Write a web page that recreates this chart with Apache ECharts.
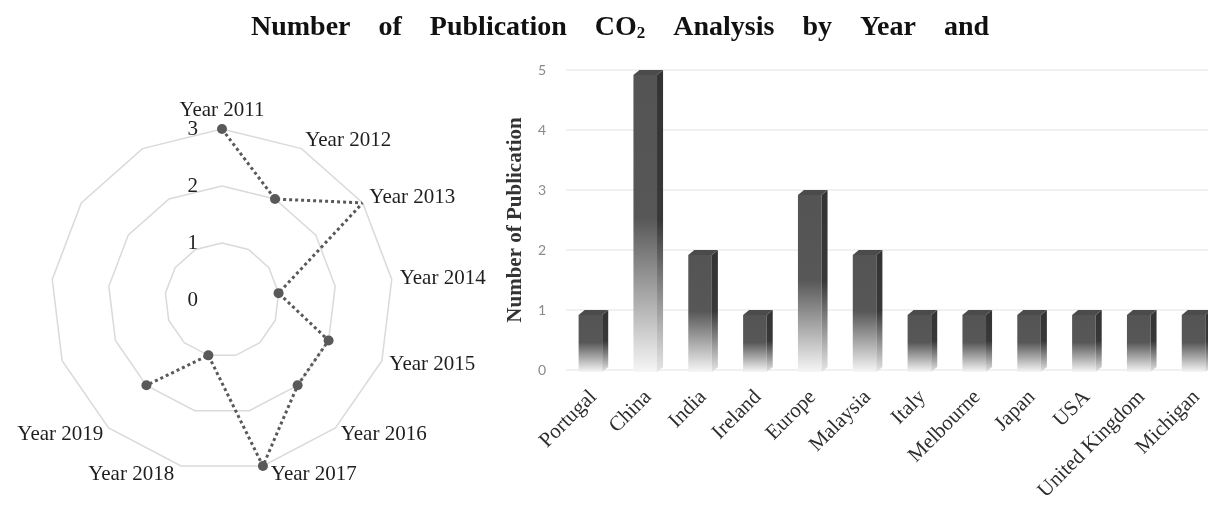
<!DOCTYPE html>
<html>
<head>
<meta charset="utf-8">
<script src="https://cdn.jsdelivr.net/npm/echarts@6/dist/echarts.min.js"></script>
<style>
  html, body { margin: 0; padding: 0; background: #fff; }
  #chart { width: 1208px; height: 510px; }
</style>
</head>
<body>
<div id="chart"></div>
<script>
// Publications per year (radar, 13 spokes; the last four are unused)
const yearLabels = ['Year 2011', 'Year 2012', 'Year 2013', 'Year 2014', 'Year 2015',
  'Year 2016', 'Year 2017', 'Year 2018', 'Year 2019', '', '', '', ''];
const yearCounts = [3, 2, 3, 1, 2, 2, 3, 1, 2, null, null, null, null];
const radialTicks = [0, 1, 2, 3];

// Publications per country / region
const countries = ['Portugal', 'China', 'India', 'Ireland', 'Europe', 'Malaysia',
  'Italy', 'Melbourne', 'Japan', 'USA', 'United Kingdom', 'Michigan'];
const countryCounts = [1, 5, 2, 1, 3, 2, 1, 1, 1, 1, 1, 1];

const serif = '"Liberation Serif", "Times New Roman", serif';
const RADAR_CENTER = [222, 300];
const RADAR_RADIUS = 171;

// Per-label tweaks so the bottom pair sits either side of the lowest edge
const yearLabelStyle = {
  'Year 2011': { lineHeight: 21 },
  'Year 2017': { padding: [0, 0, 0, 98] },
  'Year 2018': { padding: [0, 96, 0, 0] }
};
const angleData = yearLabels.map(name =>
  yearLabelStyle[name] ? { value: name, textStyle: yearLabelStyle[name] } : name);

const chart = echarts.init(document.getElementById('chart'));

// 3D-looking column: front face, lit top cap and shaded side face
function renderColumn(params, api) {
  const idx = api.value(0);
  const val = api.value(1);
  const top = api.coord([idx, val]);
  const base = api.coord([idx, 0]);
  const band = api.size([1, 0])[0];
  const w = band * 0.43;
  const depth = band * 0.11;
  const rise = 5;
  const x0 = top[0] - (w + depth) / 2;
  const x1 = x0 + w;
  const yTop = top[1] + rise;
  const yBase = base[1] + 2;
  const frontFill = new echarts.graphic.LinearGradient(0, 0, 0, 1, [
    { offset: 0, color: '#545454' },
    { offset: 0.48, color: '#575757' },
    { offset: 1, color: '#f6f6f6' }
  ]);
  const sideFill = new echarts.graphic.LinearGradient(0, 0, 0, 1, [
    { offset: 0, color: '#333333' },
    { offset: 0.5, color: '#383838' },
    { offset: 1, color: '#e6e6e6' }
  ]);
  return {
    type: 'group',
    children: [
      {
        type: 'rect',
        shape: { x: x0, y: yTop, width: w, height: yBase - yTop },
        style: { fill: frontFill }
      },
      {
        type: 'polygon',
        shape: { points: [[x1, yTop], [x1 + depth, top[1]], [x1 + depth, yBase - rise], [x1, yBase]] },
        style: { fill: sideFill }
      },
      {
        type: 'polygon',
        shape: { points: [[x0, yTop], [x0 + depth, top[1]], [x1 + depth, top[1]], [x1, yTop]] },
        style: { fill: '#4b4b4b' }
      }
    ]
  };
}

const option = {
  backgroundColor: '#ffffff',
  animation: false,
  title: {
    text: 'Number    of    Publication    CO{s|2}    Analysis    by    Year    and',
    left: 246,
    top: 8,
    textStyle: {
      fontFamily: serif,
      fontWeight: 'bold',
      fontSize: 28,
      color: '#111111',
      rich: {
        s: { fontFamily: serif, fontWeight: 'bold', fontSize: 17, color: '#111111', padding: [12, 0, 0, 0] }
      }
    }
  },
  radar: {
    center: RADAR_CENTER,
    radius: RADAR_RADIUS,
    startAngle: 90,
    shape: 'polygon',
    splitNumber: 3,
    indicator: yearLabels.map(() => ({ min: 0, max: 3 })),
    axisName: { show: false },
    axisLine: { show: false },
    axisTick: { show: false },
    axisLabel: { show: false },
    splitArea: { show: false },
    splitLine: { lineStyle: { color: '#dadada', width: 1.5 } }
  },
  polar: { center: RADAR_CENTER, radius: RADAR_RADIUS },
  angleAxis: {
    type: 'category',
    data: angleData,
    boundaryGap: false,
    startAngle: 90,
    axisLine: { show: false },
    axisTick: { show: false },
    splitLine: { show: false },
    axisLabel: { fontFamily: serif, fontSize: 21, lineHeight: 2, color: '#1e1e1e', margin: 8 }
  },
  radiusAxis: {
    type: 'value',
    min: radialTicks[0],
    max: radialTicks[radialTicks.length - 1],
    interval: 1,
    axisLine: { show: false },
    axisTick: { show: false },
    splitLine: { show: false },
    axisLabel: { fontFamily: serif, fontSize: 21, color: '#1e1e1e', margin: 24 }
  },
  grid: { left: 566, width: 658, top: 70, bottom: 140, outerBoundsMode: 'none' },
  xAxis: {
    type: 'category',
    data: countries,
    axisLine: { show: false },
    axisTick: { show: false },
    axisLabel: { rotate: 45, interval: 0, fontFamily: serif, fontSize: 21, color: '#2e2e2e', margin: 24 }
  },
  yAxis: {
    type: 'value',
    min: 0,
    max: 5,
    interval: 1,
    name: 'Number of Publication',
    nameLocation: 'middle',
    nameGap: 40,
    nameTextStyle: { fontFamily: serif, fontSize: 21, fontWeight: 'bold', color: '#333333' },
    axisLine: { show: false },
    axisTick: { show: false },
    splitLine: { lineStyle: { color: '#ececec', width: 1.5 } },
    axisLabel: { fontFamily: 'Lato, "Open Sans", sans-serif', fontSize: 14, color: '#8a8a8a', margin: 20, padding: [10, 0, 0, 0] }
  },
  series: [
    {
      type: 'line',
      coordinateSystem: 'polar',
      data: yearCounts,
      connectNulls: false,
      symbol: 'circle',
      symbolSize: 10,
      itemStyle: { color: '#595959' },
      lineStyle: { color: '#595959', width: 3, type: 'dotted' }
    },
    {
      type: 'custom',
      coordinateSystem: 'cartesian2d',
      renderItem: renderColumn,
      encode: { x: 0, y: 1 },
      data: countryCounts.map((v, i) => [i, v])
    }
  ]
};

chart.setOption(option);
</script>
</body>
</html>
